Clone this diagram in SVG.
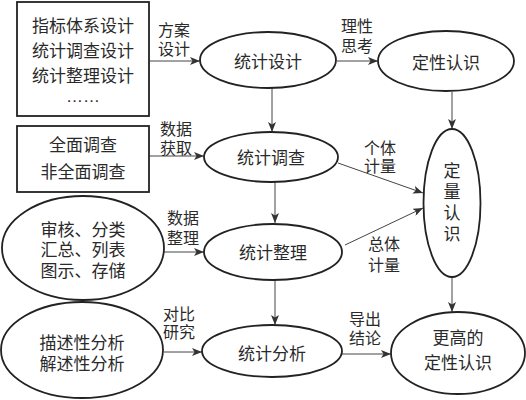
<svg xmlns="http://www.w3.org/2000/svg" width="526" height="400" viewBox="0 0 526 400">
<style>
text{font-family:"Liberation Sans","Noto Sans CJK SC",sans-serif;fill:#2a2a2a;text-anchor:middle;dominant-baseline:central}
.n{font-size:17px}
.l{font-size:16px}
.shape{fill:#fff;stroke:#222;stroke-width:1.8}
.c{stroke:#444;stroke-width:1;fill:none;marker-end:url(#ah)}
</style>
<defs>
<marker id="ah" viewBox="0 0 10 8" refX="10" refY="4" markerWidth="10" markerHeight="8" markerUnits="userSpaceOnUse" orient="auto">
<path d="M0,0 L10,4 L0,8 L2.5,4 z" fill="#333"/>
</marker>
</defs>
<rect width="526" height="400" fill="#fff"/>
<g id="connectors">
<line class="c" x1="149" y1="61" x2="200" y2="61"/>
<line class="c" x1="337" y1="61" x2="378" y2="61"/>
<line class="c" x1="452" y1="92" x2="452" y2="129"/>
<line class="c" x1="272" y1="88" x2="272" y2="132"/>
<line class="c" x1="149" y1="156" x2="204" y2="156"/>
<line class="c" x1="338" y1="163" x2="423" y2="193"/>
<line class="c" x1="275" y1="182" x2="275" y2="223"/>
<line class="c" x1="163" y1="252" x2="204" y2="252"/>
<line class="c" x1="345" y1="245" x2="423" y2="208"/>
<line class="c" x1="275" y1="280" x2="275" y2="325"/>
<line class="c" x1="164" y1="352" x2="202" y2="352"/>
<line class="c" x1="342" y1="354" x2="391" y2="354"/>
<line class="c" x1="452" y1="277" x2="452" y2="312"/>
<g class="l">
<text x="174" y="30">方案<tspan x="174" dy="19">设计</tspan></text>
<text x="357" y="26">理性<tspan x="357" dy="20">思考</tspan></text>
<text x="176" y="129">数据<tspan x="176" dy="19">获取</tspan></text>
<text x="380" y="148">个体<tspan x="380" dy="18">计量</tspan></text>
<text x="183" y="218">数据<tspan x="183" dy="20">整理</tspan></text>
<text x="384" y="244">总体<tspan x="384" dy="21">计量</tspan></text>
<text x="179" y="314">对比<tspan x="179" dy="18">研究</tspan></text>
<text x="365" y="319">导出<tspan x="365" dy="19">结论</tspan></text>
</g>
</g>
<g id="design-items">
<rect class="shape" x="17" y="2" width="132" height="114"/>
<text class="n" x="83" y="26">指标体系设计<tspan x="83" dy="25">统计调查设计</tspan><tspan x="83" dy="25">统计整理设计</tspan><tspan x="83" dy="20">……</tspan></text>
</g>
<g id="survey-types">
<rect class="shape" x="17" y="126" width="132" height="66"/>
<text class="n" x="83" y="145">全面调查<tspan x="83" dy="27">非全面调查</tspan></text>
</g>
<g id="processing-items">
<ellipse class="shape" cx="83" cy="248" rx="81" ry="52"/>
<text class="n" x="83" y="230">审核、分类<tspan x="83" dy="20">汇总、列表</tspan><tspan x="83" dy="21">图示、存储</tspan></text>
</g>
<g id="analysis-items">
<ellipse class="shape" cx="82" cy="350" rx="81" ry="48"/>
<text class="n" x="82" y="343">描述性分析<tspan x="82" dy="21">解述性分析</tspan></text>
</g>
<g id="stat-design">
<ellipse class="shape" cx="268" cy="60" rx="68" ry="28"/>
<text class="n" x="268" y="62">统计设计</text>
</g>
<g id="stat-survey">
<ellipse class="shape" cx="271" cy="157" rx="67" ry="25"/>
<text class="n" x="271" y="158">统计调查</text>
</g>
<g id="stat-processing">
<ellipse class="shape" cx="273" cy="252" rx="69" ry="28"/>
<text class="n" x="273" y="253">统计整理</text>
</g>
<g id="stat-analysis">
<ellipse class="shape" cx="272" cy="351" rx="70" ry="26"/>
<text class="n" x="272" y="354">统计分析</text>
</g>
<g id="qualitative">
<ellipse class="shape" cx="446" cy="61" rx="68" ry="30"/>
<text class="n" x="446" y="63">定性认识</text>
</g>
<g id="quantitative">
<ellipse class="shape" cx="452" cy="203" rx="28.5" ry="74"/>
<text class="n" x="452" y="171">定<tspan x="452" dy="21">量</tspan><tspan x="452" dy="21">认</tspan><tspan x="452" dy="21">识</tspan></text>
</g>
<g id="higher-qualitative">
<ellipse class="shape" cx="458" cy="353" rx="67" ry="41"/>
<text class="n" x="458" y="338">更高的<tspan x="458" dy="25">定性认识</tspan></text>
</g>
</svg>
